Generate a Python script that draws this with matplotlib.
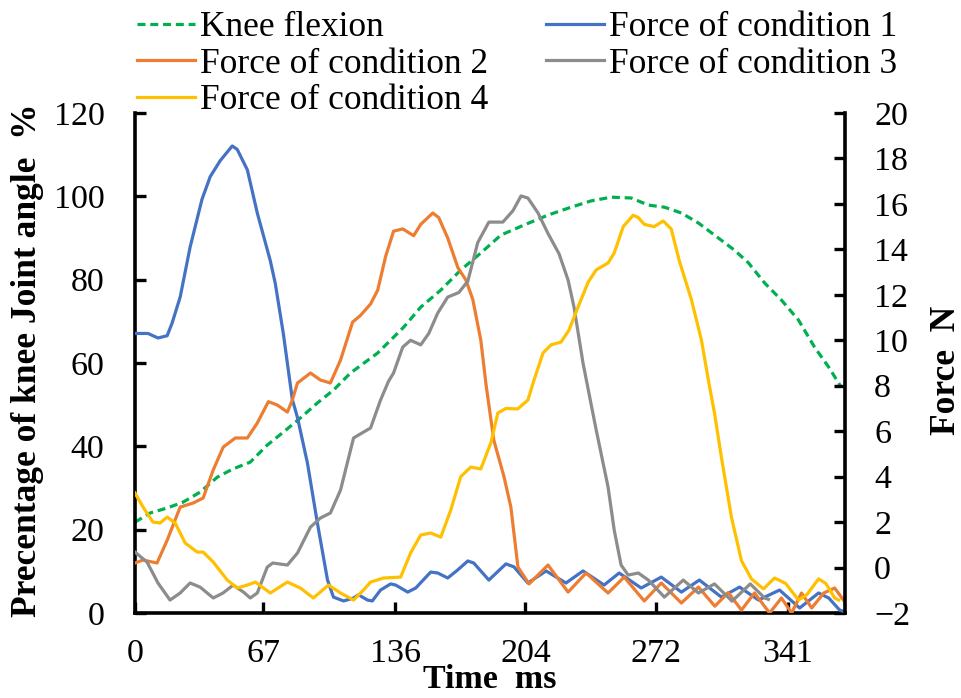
import matplotlib
matplotlib.use("Agg")
import matplotlib.pyplot as plt

plt.rcParams["font.family"] = ["Liberation Serif", "DejaVu Serif"]

# knee flexion, % of joint angle (left axis)
knee_t = [0, 7.9, 16.8, 25.1, 34, 43, 51.3, 60.2, 69.1, 77.5, 86.4, 95.3, 103.7, 112.6,
          126.8, 140.4, 149.3, 159.8, 170.2, 180.7, 191.2, 203.2, 215.8, 227.9, 238.3,
          248.8, 259.3, 268.2, 276.6, 285.5, 294.4, 302.8, 313.2, 320.6, 329, 337.8,
          346.7, 355.1, 362.5, 369]
knee_pct = [21.8, 24, 25.2, 26.6, 29, 32.6, 34.6, 36.2, 40.3, 43.4, 46.8, 50.4, 53.5, 57.6,
            62.4, 68.6, 73.4, 77.5, 82.3, 86.4, 90.7, 93.1, 95.5, 97.4, 98.9,
            99.8, 99.6, 97.9, 97.4, 96, 93.6, 90.7, 87.1, 84, 79.2, 75.1,
            70.3, 63.8, 59, 54.2]

# force, N (right axis)
f1_t = [0, 6.8, 12, 16.8, 19.4, 23.6, 28.8, 35, 39.3, 44.5, 50.8, 53.4, 58.7, 63.9, 70.7,
        73.3, 77.5, 82.2, 84.9, 90.1, 95.3, 100.6, 103.7, 109, 114.2, 116.8, 121.5, 124,
        128.3, 133.6, 136.2, 142.5, 146.7, 154.5, 158.2, 163.4, 168.7, 173.9, 177, 184.9,
        193.8, 198, 205.3, 214.8, 225.2, 234.1, 245.1, 253, 264.5, 275, 285.5, 294.9,
        306.4, 315.9, 325.8, 336.8, 347.3, 357.2, 362.5, 368.2, 371]
f1 = [10.3, 10.3, 10.1, 10.2, 10.76, 11.9, 14.1, 16.2, 17.2, 17.9, 18.55, 18.4, 17.5, 15.6, 13.5,
      12.5, 10.3, 7.4, 6.6, 4.6, 1.96, -0.55, -1.3, -1.47, -1.34, -1.2, -1.43, -1.47,
      -0.99, -0.72, -0.77, -1.08, -0.9, -0.2, -0.24, -0.46, -0.1, 0.29, 0.2, -0.55,
      0.16, 0.03, -0.68, -0.15, -0.68, -0.15, -0.77, -0.24, -0.9, -0.42, -1.08, -0.55,
      -1.3, -0.86, -1.43, -0.99, -1.78, -1.12, -1.34, -1.87, -1.95]

f2_t = [0, 4.2, 11.5, 16.8, 23.6, 30.4, 35.6, 40.9, 46.1, 52.4, 58.7, 63.9, 69.7, 74.4,
        79.6, 82.2, 84.9, 91.7, 96.9, 102.1, 107.4, 113.7, 117.9, 123.1, 126.8, 131, 135.1,
        139.9, 145.6, 149.3, 155.6, 158.7, 163.4, 168.7, 172.9, 176.5, 180.7, 183.5, 187.5,
        192.8, 196.4, 200.1, 205.9, 215.8, 226.3, 235.7, 247.2, 255.6, 266.1, 275, 285.5,
        294.4, 303, 310, 316.9, 323.7, 331.6, 337.8, 343.1, 348.3, 353.6, 359.9, 365.6, 371]
f2 = [0.2, 0.33, 0.2, 1.2, 2.66, 2.84, 3.06, 4.3, 5.3, 5.7, 5.7, 6.36, 7.3, 7.15,
      6.84, 7.37, 8.12, 8.56, 8.25, 8.12, 9.13, 10.8, 11.1, 11.6, 12.2, 13.7, 14.8,
      14.9, 14.6, 15.1, 15.6, 15.4, 14.5, 13.2, 12.65, 11.8, 10.0, 8.0, 5.6,
      4.0, 2.66, 0.02, -0.72, 0.11, -1.08, -0.24, -1.12, -0.42, -1.47, -0.68, -1.56,
      -0.86, -1.7, -1.1, -1.87, -1.12, -2.0, -1.34, -2.0, -1.12, -1.78, -1.12, -0.9, -1.52]

f3_t = [0, 6.3, 12, 18.3, 23.6, 28.8, 34, 40.9, 46, 51.3, 57, 60.2, 63.9, 69.1, 72, 79.6,
        84.9, 91.7, 96.9, 102.1, 107.4, 114.2, 119.4, 123.1, 128.3, 132.5, 135.1, 139.9,
        144, 149.3, 153.5, 158.2, 163.4, 169.2, 173.9, 179.1, 184.9, 189.6, 192.2, 197.5,
        201.7, 205.3, 210.6, 215.8, 221.6, 226.3, 229.4, 234.1, 238.3, 241, 247.2, 250.4,
        254, 257.7, 263, 268.2, 276.6, 286.5, 294.4, 302.8, 312, 321.5, 329, 331]
f3 = [0.68, 0.24, -0.68, -1.43, -1.12, -0.68, -0.86, -1.34, -1.12, -0.77, -1.1, -1.34, -1.12, 0.02, 0.2, 0.11,
      0.64, 1.78, 2.18, 2.4, 3.41, 5.7, 5.96, 6.14, 7.37, 8.2, 8.56, 9.7,
      10.0, 9.8, 10.3, 11.2, 11.9, 12.1, 12.6, 14.3, 15.2, 15.2, 15.2, 15.7,
      16.35, 16.26, 15.6, 14.7, 13.8, 12.65, 11.46, 9.0, 7.2, 6.05, 3.54, 1.65,
      0.11, -0.33, -0.24, -0.55, -1.3, -0.55, -1.12, -0.72, -1.48, -0.72, -1.34, -1.4]

f4_t = [0, 4.2, 9.4, 13.1, 16.8, 21, 26.2, 32.5, 35.6, 40.9, 48.2, 53.4, 58.7, 62.9, 70.7,
        79.6, 86.4, 93.2, 101.1, 107.4, 114.2, 119.4, 123.1, 129.9, 138.8, 144, 149.3,
        154.5, 159.8, 165, 170.2, 175.5, 180.7, 186, 189.6, 193.8, 200, 205.3, 208.5,
        213.2, 217.4, 222.6, 226.8, 231.5, 236.8, 241, 247.2, 250.4, 255.1, 260.3, 263,
        266.1, 271.3, 276, 280.2, 284.4, 290.7, 296, 299.6, 302.8, 306.4, 311.7, 316.9,
        322.1, 328.4, 334.2, 340, 346.7, 351, 357.2, 361, 365.6, 367.7]
f4 = [3.28, 2.66, 2.0, 1.96, 2.22, 1.96, 1.08, 0.68, 0.68, 0.24, -0.55, -0.9, -0.77, -0.64, -1.12,
      -0.64, -0.9, -1.34, -0.77, -1.12, -1.43, -0.99, -0.64, -0.46, -0.42, 0.64, 1.43,
      1.52, 1.34, 2.53, 4.0, 4.42, 4.34, 5.5, 6.8, 7.0, 6.98, 7.37, 8.25,
      9.44, 9.8, 9.92, 10.45, 11.46, 12.56, 13.1, 13.4, 13.84, 15.0, 15.5, 15.4,
      15.1, 15.0, 15.25, 14.9, 13.5, 11.8, 10.0, 8.25, 6.8, 4.86, 2.2, 0.3,
      -0.5, -0.94, -0.46, -0.7, -1.43, -1.2, -0.5, -0.7, -1.34, -1.43]

x_ticks = [0, 67, 136, 204, 272, 341]

BLUE = "#4472C4"
ORANGE = "#ED7D31"
GRAY = "#8C8C8C"
YELLOW = "#FFC000"
GREEN = "#00B050"

fig = plt.figure(figsize=(9.62, 6.98), dpi=100)
ax = fig.add_axes([135 / 962, 85 / 698, 710 / 962, 500 / 698])
ax2 = ax.twinx()

lw = 2.3
(knee_line,) = ax.plot(knee_t, knee_pct, color=GREEN, lw=lw, dashes=(2.5, 1.5), label="Knee flexion")
(l1,) = ax2.plot(f1_t, f1, color=BLUE, lw=lw, label="Force of condition 1")
(l2,) = ax2.plot(f2_t, f2, color=ORANGE, lw=lw, label="Force of condition 2")
(l3,) = ax2.plot(f3_t, f3, color=GRAY, lw=lw, label="Force of condition 3")
(l4,) = ax2.plot(f4_t, f4, color=YELLOW, lw=lw, label="Force of condition 4")

ax.set_xlim(0, 371)
ax.set_ylim(0, 120)
ax2.set_ylim(-2, 20)
ax.set_xticks(x_ticks)
ax.set_xticklabels([str(t) for t in x_ticks])
ax.set_yticks(range(0, 121, 20))
ax2.set_yticks(range(-2, 21, 2))

for a in (ax, ax2):
    a.spines["top"].set_visible(False)
    for s in a.spines.values():
        s.set_linewidth(2.6)
ax.spines["right"].set_visible(False)
ax2.spines["left"].set_visible(False)
ax2.spines["bottom"].set_visible(False)

tick_fs = 24.5
ax.tick_params(axis="y", direction="in", length=8, width=2.4, labelsize=tick_fs, pad=22)
ax.tick_params(axis="x", direction="in", length=8, width=2.4, labelsize=tick_fs, pad=18)
ax2.tick_params(axis="y", direction="in", length=8, width=2.4, labelsize=tick_fs, pad=21)

label_fs = 25.5
ax.set_xlabel("Time  ms", fontsize=24.5, fontweight="bold")
ax.xaxis.set_label_coords(0.5, -0.103)
ax.set_ylabel("Precentage of knee Joint angle  %", fontsize=label_fs, fontweight="bold")
ax.yaxis.set_label_coords(-0.128, 0.505)
ax2.set_ylabel("Force  N", fontsize=label_fs, fontweight="bold")
ax2.yaxis.set_label_coords(1.12, 0.486)

handles = [knee_line, l2, l4, l1, l3]
fig.legend(handles=handles, labels=[h.get_label() for h in handles], ncol=2,
           loc="upper left", bbox_to_anchor=(137 / 962, 1 - 11 / 698),
           frameon=False, fontsize=25.5, handlelength=1.64, handletextpad=0.14,
           columnspacing=1.64, labelspacing=0.1, borderpad=0, borderaxespad=0)

fig.savefig("out.png", dpi=100)
